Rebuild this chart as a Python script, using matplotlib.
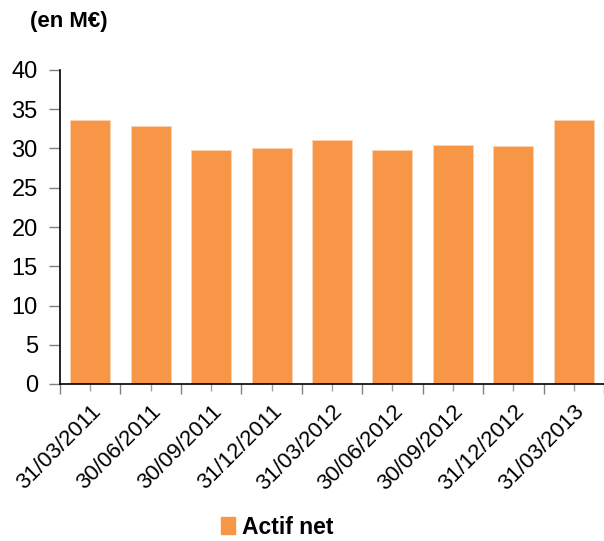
import matplotlib
matplotlib.use("Agg")
import matplotlib.pyplot as plt
import numpy as np
from matplotlib.patches import Patch

categories = ["31/03/2011", "30/06/2011", "30/09/2011", "31/12/2011", "31/03/2012",
              "30/06/2012", "30/09/2012", "31/12/2012", "31/03/2013"]
actif_net = [33.6, 32.9, 29.8, 30.05, 31.1, 29.8, 30.4, 30.35, 33.6]
yticks = [0, 5, 10, 15, 20, 25, 30, 35, 40]
color = "#F79646"
font = ["Liberation Sans", "DejaVu Sans"]
plt.rcParams['font.family'] = font

fig = plt.figure(figsize=(6.04, 5.41), dpi=100)
ax = fig.add_axes([60/604, 1-384/541, 544/604, (384-70)/541])
x = np.arange(len(categories))
ax.bar(x, actif_net, width=0.66, color=color, edgecolor="#FAD3B5", linewidth=0.6)
ax.set_xlim(-0.5, len(categories)-0.5)
ax.set_ylim(0, 40)
ax.set_yticks(yticks)
ax.set_yticklabels([str(v) for v in yticks], fontsize=17)
ax.tick_params(axis='y', direction='out', length=8, width=1, color='#808080', pad=8)
ax.set_xticks(np.arange(-0.5, len(categories), 1.0))
ax.set_xticklabels([])
ax.set_xticks(x, minor=True)
ax.set_xticklabels(categories, minor=True, rotation=45, ha='right', rotation_mode='anchor', fontsize=16)
ax.tick_params(axis='x', which='major', direction='out', length=7, width=1, color='#808080')
ax.tick_params(axis='x', which='minor', direction='out', length=5, width=1, color='#A0A0A0', pad=7)
for s in ['top', 'right']:
    ax.spines[s].set_visible(False)
ax.spines['left'].set_color('black')
ax.spines['bottom'].set_color('black')
ax.spines['left'].set_linewidth(1.2)
ax.spines['bottom'].set_linewidth(1.2)

fig.text(30/604, 1-22/541, "(en M€)", fontsize=16, fontweight='bold', va='center', ha='left')
fig.legend(handles=[Patch(color=color, label="Actif net")], loc='center',
           bbox_to_anchor=(277/604, 1-527/541), frameon=False,
           prop={'size': 16.5, 'weight': 'bold'}, handlelength=0.6, handleheight=0.8, handletextpad=0.3)
fig.savefig("out.png", dpi=100)
